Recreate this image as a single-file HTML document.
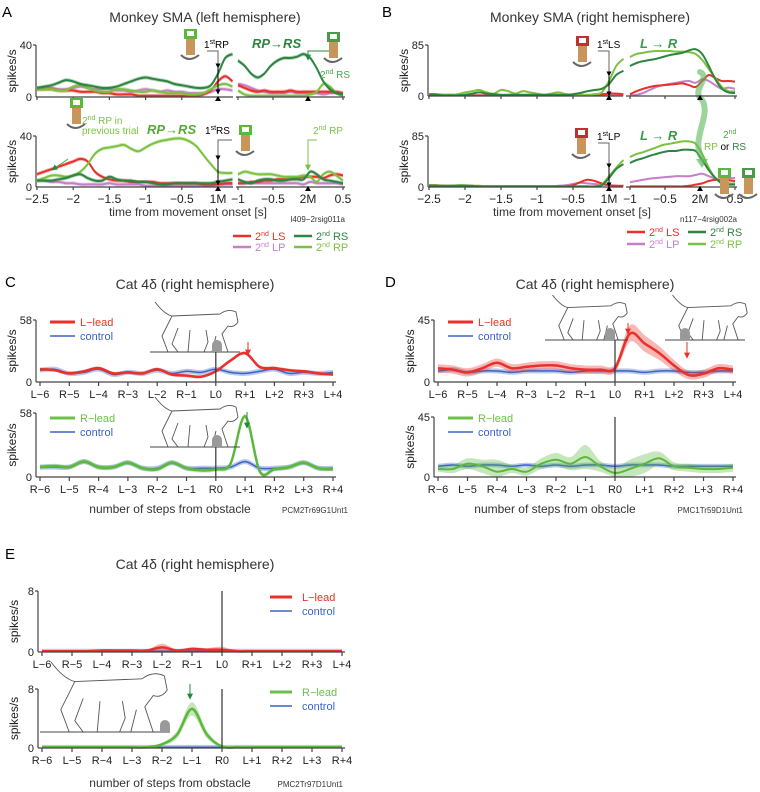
<!DOCTYPE html>
<html><head><meta charset="utf-8">
<style>
html,body{margin:0;padding:0;background:#fff;}
svg{display:block;font-family:"Liberation Sans",Arial,sans-serif;}
</style></head>
<body>
<svg id="fig" width="760" height="792" viewBox="0 0 760 792" xmlns="http://www.w3.org/2000/svg">
<defs>
<marker id="ah" viewBox="0 0 10 10" refX="9" refY="5" markerWidth="5" markerHeight="5" orient="auto"><path d="M0,0 L10,5 L0,10 z" fill="#000"/></marker>
<marker id="ahr" viewBox="0 0 10 10" refX="9" refY="5" markerWidth="6" markerHeight="6" orient="auto"><path d="M0,0 L10,5 L0,10 z" fill="#e8312b"/></marker>
<marker id="ahg" viewBox="0 0 10 10" refX="9" refY="5" markerWidth="6" markerHeight="6" orient="auto"><path d="M0,0 L10,5 L0,10 z" fill="#1f8a3c"/></marker>
<marker id="ahl" viewBox="0 0 10 10" refX="9" refY="5" markerWidth="6" markerHeight="6" orient="auto"><path d="M0,0 L10,5 L0,10 z" fill="#7cc242"/></marker>
<marker id="ahgray" viewBox="0 0 10 10" refX="9" refY="5" markerWidth="5" markerHeight="5" orient="auto"><path d="M0,0 L10,5 L0,10 z" fill="#666"/></marker>
</defs>
<text x="2" y="17" font-size="15">A</text>
<text x="205" y="22" font-size="14" text-anchor="middle" fill="#333">Monkey SMA (left hemisphere)</text>
<text x="382" y="17" font-size="15">B</text>
<text x="590" y="22" font-size="14" text-anchor="middle" fill="#333">Monkey SMA (right hemisphere)</text>
<text x="5" y="287" font-size="15">C</text>
<text x="195" y="289" font-size="14" text-anchor="middle" fill="#333">Cat 4δ (right hemisphere)</text>
<text x="385" y="287" font-size="15">D</text>
<text x="595" y="289" font-size="14" text-anchor="middle" fill="#333">Cat 4δ (right hemisphere)</text>
<text x="5" y="559" font-size="15">E</text>
<text x="195" y="569" font-size="14" text-anchor="middle" fill="#333">Cat 4δ (right hemisphere)</text>

<text x="188" y="216" font-size="12" text-anchor="middle" fill="#333">time from movement onset [s]</text>
<text x="345" y="222" font-size="8" text-anchor="end" fill="#333">l409−2rsig011a</text>
<text x="572" y="216" font-size="12" text-anchor="middle" fill="#333">time from movement onset [s]</text>
<text x="737" y="222" font-size="8" text-anchor="end" fill="#333">n117−4rsig002a</text>
<text x="170" y="513" font-size="12" text-anchor="middle" fill="#333">number of steps from obstacle</text>
<text x="348" y="513" font-size="8" text-anchor="end" fill="#333">PCM2Tr69G1Unt1</text>
<text x="555" y="513" font-size="12" text-anchor="middle" fill="#333">number of steps from obstacle</text>
<text x="743" y="513" font-size="8" text-anchor="end" fill="#333">PMC1Tr59D1Unt1</text>
<text x="170" y="787" font-size="12" text-anchor="middle" fill="#333">number of steps from obstacle</text>
<text x="343" y="787" font-size="8" text-anchor="end" fill="#333">PMC2Tr97D1Unt1</text>

<g font-size="11">
<line x1="233" y1="236" x2="251" y2="236" stroke="#e8312b" stroke-width="2.5"/>
<text x="255" y="240" fill="#e8312b">2<tspan font-size="7" dy="-4">nd</tspan><tspan dy="4"> LS</tspan></text>
<line x1="233" y1="247" x2="251" y2="247" stroke="#c77fc7" stroke-width="2.5"/>
<text x="255" y="251" fill="#c77fc7">2<tspan font-size="7" dy="-4">nd</tspan><tspan dy="4"> LP</tspan></text>
<line x1="294" y1="236" x2="312" y2="236" stroke="#2e8540" stroke-width="2.5"/>
<text x="316" y="240" fill="#2e8540">2<tspan font-size="7" dy="-4">nd</tspan><tspan dy="4"> RS</tspan></text>
<line x1="294" y1="247" x2="312" y2="247" stroke="#7cc242" stroke-width="2.5"/>
<text x="316" y="251" fill="#7cc242">2<tspan font-size="7" dy="-4">nd</tspan><tspan dy="4"> RP</tspan></text>
</g>
<g font-size="11">
<line x1="627" y1="232" x2="645" y2="232" stroke="#e8312b" stroke-width="2.5"/>
<text x="649" y="236" fill="#e8312b">2<tspan font-size="7" dy="-4">nd</tspan><tspan dy="4"> LS</tspan></text>
<line x1="627" y1="244" x2="645" y2="244" stroke="#c77fc7" stroke-width="2.5"/>
<text x="649" y="248" fill="#c77fc7">2<tspan font-size="7" dy="-4">nd</tspan><tspan dy="4"> LP</tspan></text>
<line x1="688" y1="232" x2="706" y2="232" stroke="#2e8540" stroke-width="2.5"/>
<text x="710" y="236" fill="#2e8540">2<tspan font-size="7" dy="-4">nd</tspan><tspan dy="4"> RS</tspan></text>
<line x1="688" y1="244" x2="706" y2="244" stroke="#7cc242" stroke-width="2.5"/>
<text x="710" y="248" fill="#7cc242">2<tspan font-size="7" dy="-4">nd</tspan><tspan dy="4"> RP</tspan></text>
</g>
<g font-size="11">
<line x1="50" y1="322" x2="75" y2="322" stroke="#e8312b" stroke-width="3"/><text x="80" y="326" fill="#e8312b">L−lead</text>
<line x1="50" y1="336" x2="75" y2="336" stroke="#3a63c4" stroke-width="1.5"/><text x="80" y="340" fill="#3a63c4">control</text>
</g>
<g font-size="11">
<line x1="50" y1="418" x2="75" y2="418" stroke="#6cc04a" stroke-width="3"/><text x="80" y="422" fill="#6cc04a">R−lead</text>
<line x1="50" y1="432" x2="75" y2="432" stroke="#3a63c4" stroke-width="1.5"/><text x="80" y="436" fill="#3a63c4">control</text>
</g>
<g font-size="11">
<line x1="448" y1="322" x2="473" y2="322" stroke="#e8312b" stroke-width="3"/><text x="478" y="326" fill="#e8312b">L−lead</text>
<line x1="448" y1="336" x2="473" y2="336" stroke="#3a63c4" stroke-width="1.5"/><text x="478" y="340" fill="#3a63c4">control</text>
</g>
<g font-size="11">
<line x1="448" y1="418" x2="473" y2="418" stroke="#6cc04a" stroke-width="3"/><text x="478" y="422" fill="#6cc04a">R−lead</text>
<line x1="448" y1="432" x2="473" y2="432" stroke="#3a63c4" stroke-width="1.5"/><text x="478" y="436" fill="#3a63c4">control</text>
</g>
<g font-size="11">
<line x1="270" y1="597" x2="292" y2="597" stroke="#e8312b" stroke-width="3"/><text x="302" y="601" fill="#e8312b">L−lead</text>
<line x1="270" y1="611" x2="292" y2="611" stroke="#3a63c4" stroke-width="1.5"/><text x="302" y="615" fill="#3a63c4">control</text>
</g>
<g font-size="11">
<line x1="270" y1="692" x2="292" y2="692" stroke="#6cc04a" stroke-width="3"/><text x="302" y="696" fill="#6cc04a">R−lead</text>
<line x1="270" y1="706" x2="292" y2="706" stroke="#3a63c4" stroke-width="1.5"/><text x="302" y="710" fill="#3a63c4">control</text>
</g>

<g font-size="10">
<text x="204" y="48" fill="#000">1<tspan font-size="7" dy="-4">st</tspan><tspan dy="4">RP</tspan></text>
<polyline points="207,51 218,51 218,65" fill="none" stroke="#666" stroke-width="1"/>
<line x1="218" y1="68" x2="218" y2="94" stroke="#000" stroke-width="1" marker-end="url(#ah)" marker-start="url(#ah)"/>
<text x="252" y="48" font-size="13" font-weight="bold" font-style="italic" fill="#2e8540">RP→RS</text>
<polyline points="333,51 308,51 308,60" fill="none" stroke="#2e8540" stroke-width="1" marker-end="url(#ahg)"/>
<text x="320" y="78" fill="#4aa84a">2<tspan font-size="7" dy="-4">nd</tspan><tspan dy="4"> RS</tspan></text>
<text x="82" y="124" fill="#7cc242">2<tspan font-size="7" dy="-4">nd</tspan><tspan dy="4"> RP in</tspan></text>
<text x="82" y="134" fill="#7cc242">previous trial</text>
<line x1="68" y1="159" x2="52" y2="170" stroke="#4aa84a" stroke-width="1" marker-end="url(#ahg)"/>
<text x="147" y="134" font-size="13" font-weight="bold" font-style="italic" fill="#5aa83a">RP→RS</text>
<text x="205" y="134" fill="#000">1<tspan font-size="7" dy="-4">st</tspan><tspan dy="4">RS</tspan></text>
<polyline points="232,140 218,140 218,156" fill="none" stroke="#666" stroke-width="1"/>
<line x1="218" y1="160" x2="218" y2="185" stroke="#000" stroke-width="1" marker-end="url(#ah)" marker-start="url(#ah)"/>
<text x="313" y="134" fill="#7cc242">2<tspan font-size="7" dy="-4">nd</tspan><tspan dy="4"> RP</tspan></text>
<polyline points="317,140 308,140 308,170" fill="none" stroke="#7cc242" stroke-width="1" marker-end="url(#ahl)"/>
</g>
<g font-size="10">
<text x="597" y="48" fill="#000">1<tspan font-size="7" dy="-4">st</tspan><tspan dy="4">LS</tspan></text>
<polyline points="598,51 609,51 609,72" fill="none" stroke="#666" stroke-width="1"/>
<line x1="609" y1="76" x2="609" y2="96" stroke="#000" stroke-width="1" marker-end="url(#ah)" marker-start="url(#ah)"/>
<text x="640" y="48" font-size="13" font-weight="bold" font-style="italic" fill="#3a9a4a">L → R</text>
<text x="597" y="140" fill="#000">1<tspan font-size="7" dy="-4">st</tspan><tspan dy="4">LP</tspan></text>
<polyline points="598,143 609,143 609,164" fill="none" stroke="#666" stroke-width="1"/>
<line x1="609" y1="168" x2="609" y2="187" stroke="#000" stroke-width="1" marker-end="url(#ah)" marker-start="url(#ah)"/>
<text x="640" y="140" font-size="13" font-weight="bold" font-style="italic" fill="#3a9a4a">L → R</text>
<path d="M700,72 C712,78 690,90 702,100 C712,115 690,140 702,158" fill="none" stroke="#5bb85b" stroke-width="6" stroke-opacity="0.6" stroke-linecap="round"/>
<path d="M702,168 l-6,-9 h12 z" fill="#5bb85b" fill-opacity="0.7"/>
<text x="723" y="138" fill="#4aa84a">2<tspan font-size="7" dy="-4">nd</tspan></text>
<text x="704" y="150" fill="#7cc242">RP <tspan fill="#000">or</tspan> <tspan fill="#2e8540">RS</tspan></text>
</g>
<line x1="248" y1="342" x2="248" y2="355" stroke="#e8312b" stroke-width="1" marker-end="url(#ahr)"/>
<line x1="247" y1="412" x2="247" y2="428" stroke="#1f8a3c" stroke-width="1" marker-end="url(#ahg)"/>
<line x1="628" y1="323" x2="628" y2="334" stroke="#e8312b" stroke-width="1" marker-end="url(#ahr)"/>
<line x1="687" y1="342" x2="687" y2="358" stroke="#e8312b" stroke-width="1" marker-end="url(#ahr)"/>
<line x1="190" y1="684" x2="190" y2="699" stroke="#1f8a3c" stroke-width="1" marker-end="url(#ahg)"/>
</svg>
<script>
const aTopRS1=[7,8,9,11,13,12,10,9,8,7,7,8,10,12,14,15,14,13,12,10,9,8,7,7,9,18,30,33];
const aTopLS1=[6,6,6,5,5,5,4,4,4,3,3,2,2,2,1,1,1,1,1,1,1,1,1,2,5,12,16,12];
const aTopLP1=[7,7,7,6,6,7,8,7,6,6,6,5,5,4,5,6,5,4,5,4,4,3,3,3,4,6,6,5];
const aTopRP1=[6,6,6,5,5,8,9,7,5,4,4,6,6,5,4,4,5,4,3,3,3,2,2,3,6,9,10,8];
const aTopRS2=[28,24,18,15,18,24,28,30,30,31,33,30,22,12,6,3,2];
const aTopLS2=[9,7,5,4,5,4,4,4,5,4,4,4,4,4,4,4,3];
const aTopLP2=[10,9,7,5,4,3,3,3,4,3,3,3,3,2,3,3,2];
const aTopRP2=[5,2,1,1,1,1,1,1,1,1,1,2,4,10,8,3,1];
const aBotRS1=[5,5,5,6,7,9,10,7,5,5,8,6,5,5,4,4,3,2,2,3,3,3,3,3,3,4,5,6];
const aBotLS1=[10,12,14,16,18,20,22,20,12,8,6,5,5,4,4,4,4,3,3,3,3,3,3,2,2,2,3,3];
const aBotLP1=[5,5,4,4,3,3,2,2,2,2,3,2,2,2,2,1,1,1,1,1,1,1,1,1,1,2,2,2];
const aBotRP1=[5,7,9,9,8,9,12,18,26,30,31,32,33,30,28,31,34,36,37,38,38,36,32,25,18,12,11,11];
const aBotRS2=[6,4,3,5,6,6,5,5,6,6,6,12,10,6,5,4,3];
const aBotLS2=[3,3,4,4,5,5,6,6,6,7,8,8,8,7,9,10,9];
const aBotLP2=[3,3,3,3,3,3,3,3,3,3,2,4,3,3,3,3,2];
const aBotRP2=[10,12,11,10,10,10,9,8,8,8,9,8,4,10,12,9,5];
const bTopRS1=[2,2,1,1,1,2,4,6,4,3,2,2,2,2,2,2,2,2,2,2,3,5,8,10,12,20,35,42];
const bTopRP1=[2,2,2,2,3,6,8,10,6,4,10,8,4,8,6,4,2,4,6,3,2,2,2,3,6,25,50,62];
const bTopLS1=[3,3,2,2,1,1,1,1,1,1,1,1,1,1,1,1,1,1,1,1,1,1,1,2,3,4,4,3];
const bTopLP1=[1,1,1,1,1,1,1,1,1,1,1,1,1,1,1,1,1,1,1,1,1,1,1,1,1,1,1,1];
const bTopRS2=[50,55,58,60,62,65,68,70,72,76,78,70,50,28,12,6,5];
const bTopRP2=[65,70,72,74,75,75,75,74,74,73,70,60,45,30,15,8,8];
const bTopLS2=[3,8,12,15,17,18,19,20,21,18,15,25,35,30,25,25,24];
const bTopLP2=[1,2,5,10,15,18,20,22,24,25,22,28,25,18,12,14,12];
const bBotRS1=[2,2,2,2,2,2,2,1,1,1,1,1,1,1,1,1,1,1,1,1,1,1,1,1,3,15,30,38];
const bBotRP1=[3,3,2,2,3,3,2,2,1,1,1,1,1,1,1,1,1,1,1,1,1,1,1,1,4,18,32,45];
const bBotLS1=[3,3,2,2,2,1,1,1,1,1,1,1,1,1,1,1,1,1,1,1,3,8,12,10,6,3,2,2];
const bBotLP1=[1,1,1,1,1,1,1,1,1,1,1,1,1,1,1,1,1,1,2,3,5,7,6,5,4,3,2,2];
const bBotRS2=[40,45,48,52,55,58,60,60,62,62,60,45,28,15,6,4,4];
const bBotRP2=[50,55,58,62,66,70,72,74,76,76,72,55,32,15,8,6,6];
const bBotLS2=[1,1,1,1,1,1,1,1,1,2,4,6,10,12,12,11,10];
const bBotLP2=[8,10,12,14,15,16,17,18,18,18,20,22,18,14,12,14,15];
const stepLabelsL=['L−6','R−5','L−4','R−3','L−2','R−1','L0','R+1','L+2','R+3','L+4'];
const stepLabelsR=['R−6','L−5','R−4','L−3','R−2','L−1','R0','L+1','R+2','L+3','R+4'];
const cTopLead=[12,11,8,10,13,8,9,8,12,7,6,5,10,20,27,14,13,11,10,8,7];
const cTopCtrl=[11,12,8,9,12,7,9,8,11,8,10,9,12,9,8,10,12,8,9,8,9];
const cBotLead=[9,10,9,14,9,9,13,8,7,13,8,6,7,12,55,5,7,9,13,8,7];
const cBotCtrl=[9,9,9,14,9,9,13,8,8,13,8,8,8,9,14,8,8,9,13,8,8];
const dTopLead=[10,9,7,10,14,10,11,12,12,10,9,9,10,35,28,21,12,5,6,10,9];
const dTopLeadErr=[3,3,3,3,3,3,3,3,3,3,3,3,3,6,6,5,4,3,3,3,3];
const dTopCtrl=[8,9,7,8,8,7,8,8,8,7,8,8,8,8,7,8,8,7,7,8,8];
const dBotLead=[6,6,10,8,4,6,4,10,13,10,15,8,3,6,10,14,8,7,6,6,7];
const dBotLeadErr=[2,3,4,5,9,3,3,4,5,5,9,4,4,7,7,5,3,3,3,3,3];
const dBotCtrl=[8,9,8,9,9,8,9,8,9,8,9,9,8,9,9,9,8,8,8,8,8];
const eTopLead=[0.1,0.1,0.1,0.1,0.2,0.2,0.2,0.2,0.6,0.2,0.4,0.3,0.3,0.1,0.1,0.1,0.1,0.1,0.1,0.1,0.1];
const eTopLeadErr=[0,0,0,0,0.05,0.05,0.1,0.1,0.5,0.1,0.25,0.2,0.4,0,0,0,0,0,0,0,0];
const eTopCtrl=[0.1,0.1,0.1,0.1,0.1,0.1,0.1,0.1,0.1,0.1,0.1,0.1,0.1,0.1,0.1,0.1,0.1,0.1,0.1,0.1,0.1];
const eBotLead=[0.1,0.1,0.1,0.1,0.1,0.1,0.1,0.1,0.5,1.8,5.3,1.8,0.2,0.1,0.1,0.1,0.1,0.1,0.1,0.1,0.1];
const eBotLeadErr=[0,0,0,0,0,0,0,0,0.2,0.5,0.9,0.5,0.1,0,0,0,0,0,0,0,0];
const eBotCtrl=[0.1,0.1,0.1,0.1,0.1,0.1,0.1,0.1,0.1,0.1,0.1,0.1,0.1,0.1,0.1,0.1,0.1,0.1,0.1,0.1,0.1];

const NS='http://www.w3.org/2000/svg';
const svg=document.getElementById('fig');
function el(tag,attrs){const e=document.createElementNS(NS,tag);for(const k in attrs)e.setAttribute(k,attrs[k]);svg.insertBefore(e,svg.querySelector('g'));return e;}
function elTop(tag,attrs){const e=document.createElementNS(NS,tag);for(const k in attrs)e.setAttribute(k,attrs[k]);svg.appendChild(e);return e;}
function range(a,b,n){const r=[];for(let i=0;i<n;i++)r.push(a+(b-a)*i/(n-1));return r;}
function smooth(p){let d='M'+p[0][0].toFixed(1)+','+p[0][1].toFixed(1);
  for(let i=0;i<p.length-1;i++){const p0=p[i-1]||p[i],p1=p[i],p2=p[i+1],p3=p[i+2]||p2;
    d+=' C'+(p1[0]+(p2[0]-p0[0])/6).toFixed(1)+','+(p1[1]+(p2[1]-p0[1])/6).toFixed(1)+' '+(p2[0]-(p3[0]-p1[0])/6).toFixed(1)+','+(p2[1]-(p3[1]-p1[1])/6).toFixed(1)+' '+p2[0].toFixed(1)+','+p2[1].toFixed(1);}
  return d;}
function series(name,ts,vals,xf,yf,color,w,band){
  if(band){const b=Array.isArray(band)?band:vals.map(()=>band);
    const up=ts.map((t,i)=>[xf(t),yf(vals[i]+b[i])]);
    const lo=ts.map((t,i)=>[xf(t),yf(Math.max(0,vals[i]-b[i]))]).reverse();
    const bp=el('path',{d:smooth(up)+' L'+smooth(lo).slice(1)+' Z',fill:color,'fill-opacity':0.35,stroke:'none'});
    
    }
  const ln=el('path',{d:smooth(ts.map((t,i)=>[xf(t),yf(vals[i])])),fill:'none',stroke:color,'stroke-width':w,'stroke-linejoin':'round'});
  
  
}
function txt(name,x,y,s,size,anchor,rot){const t=elTop('text',{x:x,y:y,'font-size':size,'text-anchor':anchor||'middle',fill:'#222'});
  if(rot)t.setAttribute('transform','rotate(-90 '+x+' '+y+')');
  t.textContent=s;
  
  return t;}
function ln(name,x1,y1,x2,y2,c,w){const l=elTop('line',{x1:x1,y1:y1,x2:x2,y2:y2,stroke:c||'#444','stroke-width':w||1.2});
  
  return l;}

const RED='#e8312b',PINK='#c77fc7',DG='#2e8540',LG='#7cc242',BLUE='#3a63c4',CG='#5cb83c';
const t1=range(-2.5,0.2,28), t2=range(-1.0,0.5,17), steps=range(-6,4,21);

function monkey(id,x0,k1,seg1End,zero2,k2,axEnd,y0,ytop,ymax,data,showLabels){
  const yf=v=>y0-v/ymax*(y0-ytop);
  const xf1=t=>x0+(t+2.5)*k1, xf2=t=>zero2+t*k2;
  const names=['RS','LS','LP','RP'],cols=[DG,RED,PINK,LG];
  [2,1,3,0].forEach(i=>{series(id+'-'+names[i]+'-seg1',t1,data[i],xf1,yf,cols[i],2,1.5);
                    series(id+'-'+names[i]+'-seg2',t2,data[i+4],xf2,yf,cols[i],2,1.5);});
  ln(id+'-y-axis',x0-1,y0,x0-1,ytop);
  ln(id+'-y-tick-top',x0-4,ytop,x0-1,ytop);
  ln(id+'-x-axis-seg1',x0-1,y0,seg1End,y0);
  ln(id+'-x-axis-seg2',seg1End+3,y0,axEnd,y0);
  txt(id+'-y-max',x0-5,ytop+4,String(ymax),11,'end');
  txt(id+'-y-zero',x0-5,y0+4,'0',11,'end');
  txt(id+'-y-title',x0-21,(y0+ytop)/2,'spikes/s',12,'middle',true);
  const tk1=[-2.5,-2,-1.5,-1,-0.5,0], tk1L=['−2.5','−2','−1.5','−1','−0.5','1M'];
  tk1.forEach((t,i)=>{ln(id+'-x-tick',xf1(t),y0,xf1(t),y0+3);if(showLabels)txt(id+'-x-tick-label',xf1(t),y0+16,tk1L[i],12);});
  const tk2=[-1,-0.5,0,0.5], tk2L=['−1','−0.5','2M','0.5'];
  tk2.forEach((t,i)=>{ln(id+'-x-tick',xf2(t),y0,xf2(t),y0+3);if(showLabels)txt(id+'-x-tick-label',xf2(t),y0+16,tk2L[i],12);});
  const m1=elTop('path',{d:'M'+xf1(0)+','+(y0-1)+' l-3,5 h6 z',fill:'#000'});
  
  
  const m2=elTop('path',{d:'M'+xf2(0)+','+(y0-1)+' l-3,5 h6 z',fill:'#000'});
  
  
}
monkey('a-top',37,72.4,233,308,70,345,97,45,40,[aTopRS1,aTopLS1,aTopLP1,aTopRP1,aTopRS2,aTopLS2,aTopLP2,aTopRP2],false);
monkey('a-bottom',37,72.4,233,308,70,345,187,136,40,[aBotRS1,aBotLS1,aBotLP1,aBotRP1,aBotRS2,aBotLS2,aBotLP2,aBotRP2],true);
monkey('b-top',429,72,623,700,70,737,96,45,85,[bTopRS1,bTopLS1,bTopLP1,bTopRP1,bTopRS2,bTopLS2,bTopLP2,bTopRP2],false);
monkey('b-bottom',429,72,623,700,70,737,187,136,85,[bBotRS1,bBotLS1,bBotLP1,bBotRP1,bBotRS2,bBotLS2,bBotLP2,bBotRP2],true);

function cat(id,x0,k,y0,ytop,ymax,lead,leadErr,leadCol,leadW,ctrl,labels,obsTop){
  const yf=v=>y0-v/ymax*(y0-ytop), xf=s=>x0+(s+6)*k;
  ln(id+'-obstacle-line',xf(0),obsTop,xf(0),y0,'#333',1.2);
  series(id+'-control',steps,ctrl,xf,yf,BLUE,1.5,ymax*0.04);
  series(id+'-lead',steps,lead,xf,yf,leadCol,leadW,leadErr);
  ln(id+'-y-axis',x0-4,y0,x0-4,ytop);
  ln(id+'-y-tick-top',x0-7,ytop,x0-4,ytop);
  ln(id+'-x-axis',x0-4,y0,xf(4)+3,y0);
  txt(id+'-y-max',x0-8,ytop+4,String(ymax),11,'end');
  txt(id+'-y-zero',x0-8,y0+4,'0',11,'end');
  txt(id+'-y-title',x0-24,(y0+ytop)/2,'spikes/s',12,'middle',true);
  labels.forEach((s,i)=>{ln(id+'-x-tick',xf(i-6),y0,xf(i-6),y0+4);txt(id+'-x-tick-label',xf(i-6),y0+16,s,11);});
}
cat('c-top',40,29.3,382,320,58,cTopLead,1.5,RED,2.5,cTopCtrl,stepLabelsL,352);
cat('c-bottom',40,29.3,477,413,58,cBotLead,2,CG,2.5,cBotCtrl,stepLabelsR,447);
cat('d-top',438,29.5,382,320,45,dTopLead,dTopLeadErr,RED,2.5,dTopCtrl,stepLabelsL,340);
cat('d-bottom',438,29.5,477,417,45,dBotLead,dBotLeadErr,CG,2,dBotCtrl,stepLabelsR,417);
cat('e-top',42,30,652,591,8,eTopLead,eTopLeadErr,RED,2.5,eTopCtrl,stepLabelsL,591);
cat('e-bottom',42,30,748,689,8,eBotLead,eBotLeadErr,CG,2.5,eBotCtrl,stepLabelsR,689);

function drawCat(id,x,y,s){
  const g=elTop('g',{transform:'translate('+x+','+y+') scale('+s+')',fill:'none',stroke:'#555','stroke-width':0.9/s});
  
  
  const p=document.createElementNS(NS,'path');
  p.setAttribute('d','M5,-50 Q14,-38 22,-36 L70,-38 Q78,-44 86,-40 L88,-30 Q84,-24 78,-26 L72,-18 L78,0 M66,-16 L62,0 M22,-36 L12,-16 L18,0 M28,-24 L22,-8 L28,0 M40,-22 L38,0 M56,-22 L58,-10 L54,0');
  g.appendChild(p);
}
function floor(id,x1,x2,y,ox){ln(id,x1,y,x2,y,'#444',1);
  const o=elTop('path',{d:'M'+(ox-5)+','+y+' v-7 a5,5 0 0 1 10,0 v7 z',fill:'#999'});
  
  }
drawCat('cat-c-top',150,352,1);floor('floor-c-top',150,240,352,217);
drawCat('cat-c-bottom',150,447,1);floor('floor-c-bottom',150,240,447,217);
drawCat('cat-d-top-1',548,340,0.9);floor('floor-d-top-1',545,628,340,610);
drawCat('cat-d-top-2',668,340,0.9);floor('floor-d-top-2',665,745,340,685);
drawCat('cat-e-bottom',44,732,1.4);floor('floor-e-bottom',40,170,732,165);

function hand(id,x,y,c){
  const g=elTop('g',{transform:'translate('+x+','+y+')'});
  
  
  g.innerHTML='<rect x="2" y="8" width="9" height="18" fill="#c8955a"/><rect x="0" y="0" width="13" height="10" fill="'+c+'"/><rect x="3" y="2" width="7" height="5" fill="#fff"/><path d="M-3,26 q8,8 18,0" fill="none" stroke="#666" stroke-width="2"/>';
}
hand('hand-a-1',184,29,'#5cb83c');hand('hand-a-2',327,32,'#4a9a4a');hand('hand-a-3',70,98,'#5cb83c');hand('hand-a-4',239,125,'#5cb83c');
hand('hand-b-1',576,36,'#c03030');hand('hand-b-2',575,128,'#c03030');hand('hand-b-3',718,168,'#5cb83c');hand('hand-b-4',742,168,'#4a9a4a');
</script>
</body></html>
